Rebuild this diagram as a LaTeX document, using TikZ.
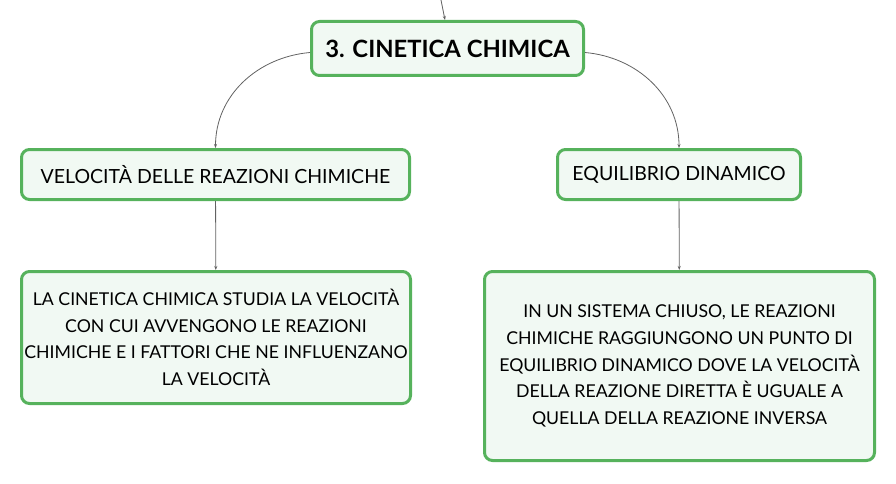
\documentclass[tikz,border=0pt]{standalone}
\usepackage{fontspec}
\setmainfont{Lato}
\usetikzlibrary{arrows.meta,positioning}
\definecolor{MapGreen}{RGB}{86,178,92}
\definecolor{MapFill}{RGB}{241,249,243}
\definecolor{MapLine}{RGB}{98,98,98}

\begin{document}
\begin{tikzpicture}[x=1pt,y=1pt,
        box/.style={draw=MapGreen,fill=MapFill,rounded corners=8pt,line width=3pt,
                    inner sep=0pt,align=center},
        rootbox/.style={box,font=\fontsize{23.8}{28}\selectfont\bfseries,
                    minimum width=272pt,minimum height=54pt},
        topicbox/.style={box,font=\fontsize{19.5}{23}\selectfont,minimum height=50pt},
        textbox/.style={box,font=\fontsize{17.7}{26.6}\selectfont,minimum width=389pt},
        conn/.style={-{Stealth[length=4pt,width=3pt]},MapLine,line width=0.8pt}
      ]
        \useasboundingbox (0,0) rectangle (896,483);
        \node[rootbox] (root) at (447.5,434.5) {3. CINETICA CHIMICA};
        \node[topicbox,minimum width=388pt] (vel) at (215.5,308.5) {VELOCITÀ DELLE REAZIONI CHIMICHE};
        \node[topicbox,minimum width=243pt] (equ) at (679,308.5) {EQUILIBRIO DINAMICO};
        \node[textbox,minimum height=132pt] (velt) at (216,145.5)
          {LA CINETICA CHIMICA STUDIA LA VELOCITÀ\\CON CUI AVVENGONO LE REAZIONI\\CHIMICHE E I FATTORI CHE NE INFLUENZANO\\LA VELOCITÀ};
        \node[textbox,minimum width=390pt,minimum height=189pt] (equt) at (679.5,117)
          {IN UN SISTEMA CHIUSO, LE REAZIONI\\CHIMICHE RAGGIUNGONO UN PUNTO DI\\EQUILIBRIO DINAMICO DOVE LA VELOCITÀ\\DELLA REAZIONE DIRETTA È UGUALE A\\QUELLA DELLA REAZIONE INVERSA};
        \coordinate (parent) at (441,483);
        \draw[conn] (parent) -- ([xshift=-2.5pt]root.north);
        \draw[conn] ([yshift=-4pt]root.west) to[out=185,in=90] (vel.north);
        \draw[conn] ([yshift=-4pt]root.east) to[out=-5,in=90] (equ.north);
        \draw[conn] (vel) -- (velt);
        \draw[conn] (equ) -- (equt);
      \end{tikzpicture}
\end{document}
